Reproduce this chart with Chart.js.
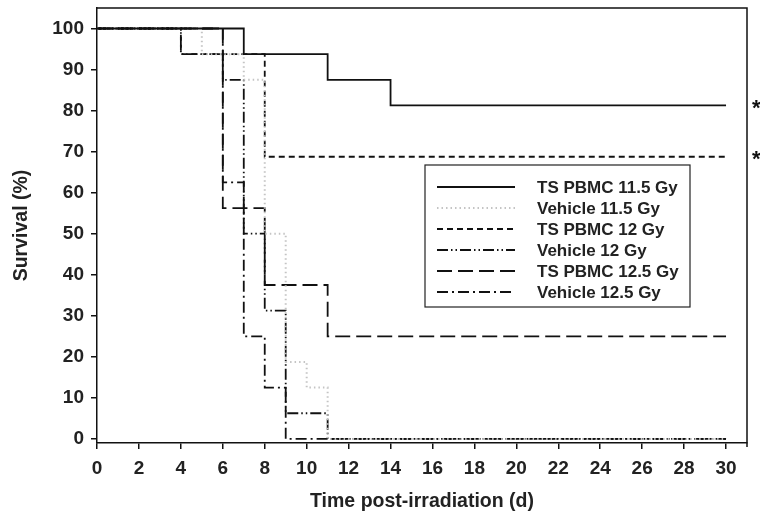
<!DOCTYPE html>
<html>
<head>
<meta charset="utf-8">
<script src="https://cdn.jsdelivr.net/npm/chart.js@4"></script>
<style>
  html, body { margin: 0; padding: 0; background: #fff; }
  canvas { display: block; }
</style>
</head>
<body>
<canvas id="c" width="760" height="519"></canvas>
<script>
// ---- data (Kaplan-Meier steps: day of event, survival after event) ----
const seriesNames = ["TS PBMC 11.5 Gy", "Vehicle 11.5 Gy", "TS PBMC 12 Gy", "Vehicle 12 Gy", "TS PBMC 12.5 Gy", "Vehicle 12.5 Gy"];

const tsPbmc115Days = [0, 7, 11, 14, 30];
const tsPbmc115Surv = [100, 93.75, 87.5, 81.25, 81.25];

const veh115Days = [0, 5, 7, 8, 9, 10, 11, 30];
const veh115Surv = [100, 93.75, 87.5, 50, 18.75, 12.5, 0, 0];

const tsPbmc12Days = [0, 4, 8, 30];
const tsPbmc12Surv = [100, 93.75, 68.75, 68.75];

const veh12Days = [0, 4, 6, 7, 8, 9, 11, 30];
const veh12Surv = [100, 93.75, 87.5, 50, 31.25, 6.25, 0, 0];

const tsPbmc125Days = [0, 6, 8, 11, 30];
const tsPbmc125Surv = [100, 56.25, 37.5, 25, 25];

const veh125Days = [0, 6, 7, 8, 9, 30];
const veh125Surv = [100, 62.5, 25, 12.5, 0, 0];

const xTicks = [0, 2, 4, 6, 8, 10, 12, 14, 16, 18, 20, 22, 24, 26, 28, 30];
const yTicks = [0, 10, 20, 30, 40, 50, 60, 70, 80, 90, 100];

// significance markers (series index -> label)
const markerSeries = [0, 2];
const markerText = "*";

// ---- styles ----
const FONT = "'Liberation Sans', Arial, Helvetica, sans-serif";
const styles = [
  { color: '#111', dash: [], width: 1.8 },
  { color: '#c4c4c4', dash: [1.5, 3], width: 2 },
  { color: '#111', dash: [6, 4], width: 1.8 },
  { color: '#111', dash: [11, 3, 1.5, 3, 1.5, 3], width: 1.8 },
  { color: '#111', dash: [15, 6], width: 1.8 },
  { color: '#111', dash: [11, 4, 2, 4], width: 1.8 }
];

const allDays = [tsPbmc115Days, veh115Days, tsPbmc12Days, veh12Days, tsPbmc125Days, veh125Days];
const allSurv = [tsPbmc115Surv, veh115Surv, tsPbmc12Surv, veh12Surv, tsPbmc125Surv, veh125Surv];

const datasets = seriesNames.map((name, i) => ({
  label: name,
  data: allDays[i].map((d, j) => ({ x: d, y: allSurv[i][j] })),
  stepped: 'before',
  borderColor: styles[i].color,
  borderDash: styles[i].dash,
  borderWidth: styles[i].width,
  pointRadius: 0,
  fill: false,
  tension: 0
}));

const framePlugin = {
  id: 'frame',
  afterDraw(chart) {
    const { ctx, chartArea: a, scales } = chart;
    ctx.save();
    ctx.strokeStyle = '#111';
    ctx.lineWidth = 1.5;
    ctx.beginPath();
    ctx.moveTo(a.left, a.top);
    ctx.lineTo(a.right, a.top);
    ctx.lineTo(a.right, a.bottom + 4);
    ctx.stroke();

    // legend
    const lx = 425, ly = 165, lw = 265, lh = 142;
    ctx.fillStyle = '#fff';
    ctx.fillRect(lx, ly, lw, lh);
    ctx.lineWidth = 1.2;
    ctx.strokeStyle = '#222';
    ctx.strokeRect(lx, ly, lw, lh);
    ctx.font = "bold 17px " + FONT;
    ctx.textBaseline = 'middle';
    ctx.textAlign = 'left';
    seriesNames.forEach((name, i) => {
      const y = 187 + i * 21;
      ctx.save();
      ctx.strokeStyle = styles[i].color;
      ctx.lineWidth = styles[i].width;
      ctx.setLineDash(styles[i].dash);
      ctx.beginPath();
      ctx.moveTo(437, y);
      ctx.lineTo(515, y);
      ctx.stroke();
      ctx.restore();
      ctx.fillStyle = '#222';
      ctx.fillText(name, 537, y + 1);
    });

    // significance asterisks
    ctx.font = "bold 22px " + FONT;
    ctx.fillStyle = '#111';
    ctx.textBaseline = 'middle';
    markerSeries.forEach(si => {
      const v = allSurv[si][allSurv[si].length - 1];
      const y = scales.y.getPixelForValue(v);
      ctx.fillText(markerText, 752, y + 3);
    });
    ctx.restore();
  }
};

new Chart(document.getElementById('c'), {
  type: 'line',
  data: { datasets },
  options: {
    responsive: false,
    animation: false,
    devicePixelRatio: 1,
    layout: { padding: { top: 8, right: 13, left: 0, bottom: 0 } },
    plugins: { legend: { display: false }, tooltip: { enabled: false } },
    scales: {
      x: {
        type: 'linear',
        min: 0,
        max: 31,
        afterBuildTicks: s => { s.ticks = xTicks.map(v => ({ value: v })); },
        afterFit: s => { s.height = 76; s.paddingLeft = 0; s.paddingRight = 0; },
        grid: { display: true, drawOnChartArea: false, drawTicks: true, tickLength: 6, color: '#111', lineWidth: 1.5 },
        border: { display: true, color: '#111', width: 1.5 },
        ticks: { font: { family: FONT, size: 19, weight: 'bold' }, color: '#222', padding: 8, maxRotation: 0 },
        title: { display: true, text: 'Time post-irradiation (d)', font: { family: FONT, size: 19.5, weight: 'bold' }, color: '#222', padding: { top: 0, bottom: 6 } }
      },
      y: {
        type: 'linear',
        min: -1,
        max: 105,
        afterBuildTicks: s => { s.ticks = yTicks.map(v => ({ value: v })); },
        afterFit: s => { s.width = 97; s.paddingTop = 0; s.paddingBottom = 0; },
        grid: { display: true, drawOnChartArea: false, drawTicks: true, tickLength: 6, color: '#111', lineWidth: 1.5 },
        border: { display: true, color: '#111', width: 1.5 },
        ticks: { font: { family: FONT, size: 19, weight: 'bold' }, color: '#222', padding: 7 },
        title: { display: true, text: 'Survival (%)', font: { family: FONT, size: 19.5, weight: 'bold' }, color: '#222', padding: { top: 10, bottom: 0 } }
      }
    }
  },
  plugins: [framePlugin]
});
</script>
</body>
</html>
